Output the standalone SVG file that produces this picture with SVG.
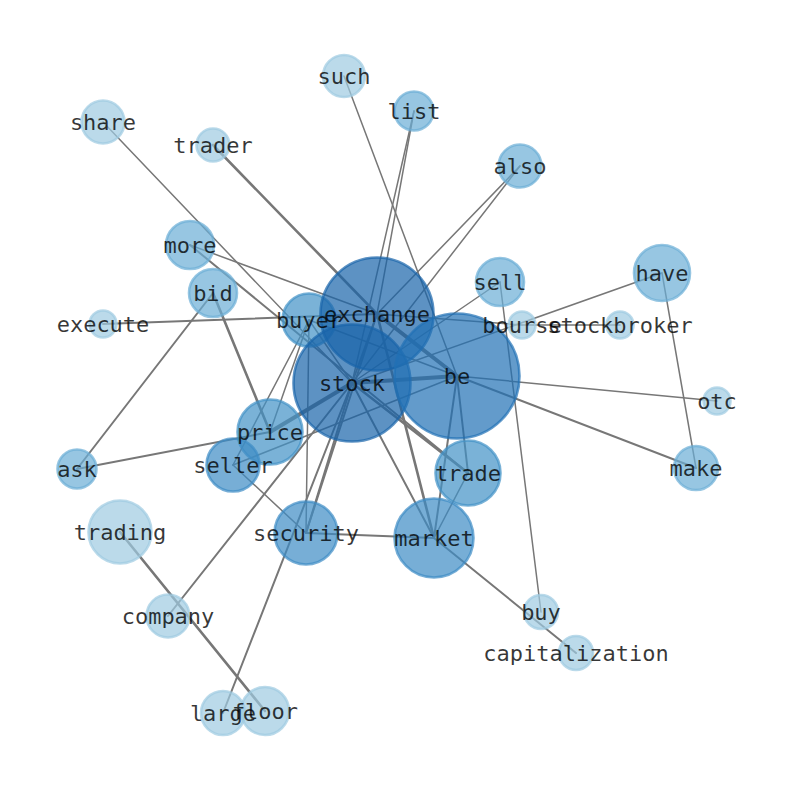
<svg xmlns="http://www.w3.org/2000/svg" width="794" height="790" viewBox="0 0 794 790">
<style>
.e{stroke:#777;fill:none;stroke-linecap:round}
.w1{stroke-width:1.5}.w2{stroke-width:2}.w3{stroke-width:2.6}.w4{stroke-width:4}
circle{fill-opacity:.7;stroke-opacity:.7;stroke-width:2.6}
.c1{fill:#9ecae1;stroke:#9ecae1}.c2{fill:#6baed6;stroke:#6baed6}.c3{fill:#4292c6;stroke:#4292c6}
.c4{fill:#3d8cc4;stroke:#3d8cc4}.c5{fill:#2171b5;stroke:#2171b5}.c6{fill:#1864aa;stroke:#1864aa}
text{font-family:"DejaVu Sans Mono",monospace;font-size:22px;fill:#000;fill-opacity:.78;text-anchor:middle;dominant-baseline:central}
</style>
<rect width="794" height="790" fill="#fff"/>
<g id="edges">
<line class="e w1" x1="344" y1="76" x2="457" y2="376"/>
<line class="e w1" x1="414" y1="111" x2="377" y2="314"/>
<line class="e w1" x1="414" y1="111" x2="352" y2="383"/>
<line class="e w1" x1="103" y1="122" x2="352" y2="383"/>
<line class="e w3" x1="213" y1="145" x2="377" y2="314"/>
<line class="e w1" x1="520" y1="166" x2="377" y2="314"/>
<line class="e w1" x1="520" y1="166" x2="352" y2="383"/>
<line class="e w1" x1="190" y1="245" x2="377" y2="314"/>
<line class="e w2" x1="190" y1="245" x2="468" y2="473"/>
<line class="e w3" x1="213" y1="293" x2="270" y2="432"/>
<line class="e w2" x1="213" y1="293" x2="77" y2="469"/>
<line class="e w2" x1="103" y1="324" x2="377" y2="314"/>
<line class="e w1" x1="309" y1="320" x2="457" y2="376"/>
<line class="e w1" x1="309" y1="320" x2="270" y2="432"/>
<line class="e w1" x1="309" y1="320" x2="233" y2="465"/>
<line class="e w1" x1="309" y1="320" x2="306" y2="533"/>
<line class="e w1" x1="309" y1="320" x2="352" y2="383"/>
<line class="e w4" x1="377" y1="314" x2="457" y2="376"/>
<line class="e w4" x1="352" y1="383" x2="457" y2="376"/>
<line class="e w2" x1="377" y1="314" x2="352" y2="383"/>
<line class="e w4" x1="352" y1="383" x2="270" y2="432"/>
<line class="e w3" x1="352" y1="383" x2="468" y2="473"/>
<line class="e w2" x1="352" y1="383" x2="434" y2="538"/>
<line class="e w3" x1="377" y1="314" x2="434" y2="538"/>
<line class="e w2" x1="352" y1="383" x2="306" y2="533"/>
<line class="e w2" x1="377" y1="314" x2="306" y2="533"/>
<line class="e w2" x1="352" y1="383" x2="168" y2="616"/>
<line class="e w2" x1="352" y1="383" x2="223" y2="713"/>
<line class="e w1" x1="500" y1="282" x2="352" y2="383"/>
<line class="e w1" x1="500" y1="282" x2="541" y2="612"/>
<line class="e w1" x1="662" y1="273" x2="352" y2="383"/>
<line class="e w1" x1="662" y1="273" x2="696" y2="468"/>
<line class="e w1" x1="377" y1="314" x2="522" y2="325"/>
<line class="e w1" x1="522" y1="325" x2="620" y2="325"/>
<line class="e w1" x1="457" y1="376" x2="717" y2="401"/>
<line class="e w2" x1="457" y1="376" x2="696" y2="468"/>
<line class="e w2" x1="457" y1="376" x2="468" y2="473"/>
<line class="e w2" x1="457" y1="376" x2="434" y2="538"/>
<line class="e w1" x1="457" y1="376" x2="233" y2="465"/>
<line class="e w1" x1="468" y1="473" x2="434" y2="538"/>
<line class="e w2" x1="434" y1="538" x2="306" y2="533"/>
<line class="e w2" x1="434" y1="538" x2="576" y2="653"/>
<line class="e w1" x1="233" y1="465" x2="306" y2="533"/>
<line class="e w2" x1="77" y1="469" x2="270" y2="432"/>
<line class="e w3" x1="120" y1="532" x2="265" y2="711"/>
</g>
<g id="n-such"><circle class="c1" cx="344" cy="76" r="21"/></g>
<g id="n-list"><circle class="c2" cx="414" cy="111" r="19.5"/></g>
<g id="n-share"><circle class="c1" cx="103" cy="122" r="21.5"/></g>
<g id="n-trader"><circle class="c1" cx="213" cy="145" r="16.5"/></g>
<g id="n-also"><circle class="c2" cx="520" cy="166" r="21.5"/></g>
<g id="n-more"><circle class="c2" cx="190" cy="245" r="24"/></g>
<g id="n-bid"><circle class="c2" cx="213" cy="293" r="24"/></g>
<g id="n-execute"><circle class="c1" cx="103" cy="324" r="13.5"/></g>
<g id="n-sell"><circle class="c2" cx="500" cy="282" r="24"/></g>
<g id="n-have"><circle class="c2" cx="662" cy="273" r="28"/></g>
<g id="n-bourse"><circle class="c1" cx="522" cy="325" r="13.5"/></g>
<g id="n-stockbroker"><circle class="c1" cx="620" cy="325" r="13.5"/></g>
<g id="n-otc"><circle class="c1" cx="717" cy="401" r="13.5"/></g>
<g id="n-buyer"><circle class="c3" cx="309" cy="320" r="26.5"/></g>
<g id="n-exchange"><circle class="c6" cx="377" cy="314" r="56.5"/></g>
<g id="n-stock"><circle class="c6" cx="352" cy="383" r="58.5"/></g>
<g id="n-be"><circle class="c5" cx="457" cy="376" r="62.5"/></g>
<g id="n-price"><circle class="c3" cx="270" cy="432" r="32.5"/></g>
<g id="n-seller"><circle class="c4" cx="233" cy="465" r="26.5"/></g>
<g id="n-ask"><circle class="c2" cx="77" cy="469" r="19.5"/></g>
<g id="n-trade"><circle class="c3" cx="468" cy="473" r="32.5"/></g>
<g id="n-make"><circle class="c2" cx="696" cy="468" r="22"/></g>
<g id="n-trading"><circle class="c1" cx="120" cy="532" r="31.5"/></g>
<g id="n-security"><circle class="c4" cx="306" cy="533" r="31.5"/></g>
<g id="n-market"><circle class="c4" cx="434" cy="538" r="39.5"/></g>
<g id="n-company"><circle class="c1" cx="168" cy="616" r="21.5"/></g>
<g id="n-buy"><circle class="c1" cx="541" cy="612" r="17"/></g>
<g id="n-capitalization"><circle class="c1" cx="576" cy="653" r="17"/></g>
<g id="n-large"><circle class="c1" cx="223" cy="713" r="22"/></g>
<g id="n-floor"><circle class="c1" cx="265" cy="711" r="24"/></g>
<g id="labels">
<text x="344" y="76">such</text>
<text x="414" y="111">list</text>
<text x="103" y="122">share</text>
<text x="213" y="145">trader</text>
<text x="520" y="166">also</text>
<text x="190" y="245">more</text>
<text x="213" y="293">bid</text>
<text x="103" y="324">execute</text>
<text x="500" y="282">sell</text>
<text x="662" y="273">have</text>
<text x="522" y="325">bourse</text>
<text x="620" y="325">stockbroker</text>
<text x="717" y="401">otc</text>
<text x="309" y="320">buyer</text>
<text x="377" y="314">exchange</text>
<text x="352" y="383">stock</text>
<text x="457" y="376">be</text>
<text x="270" y="432">price</text>
<text x="233" y="465">seller</text>
<text x="77" y="469">ask</text>
<text x="468" y="473">trade</text>
<text x="696" y="468">make</text>
<text x="120" y="532">trading</text>
<text x="306" y="533">security</text>
<text x="434" y="538">market</text>
<text x="168" y="616">company</text>
<text x="541" y="612">buy</text>
<text x="576" y="653">capitalization</text>
<text x="223" y="713">large</text>
<text x="265" y="711">floor</text>
</g>
</svg>
